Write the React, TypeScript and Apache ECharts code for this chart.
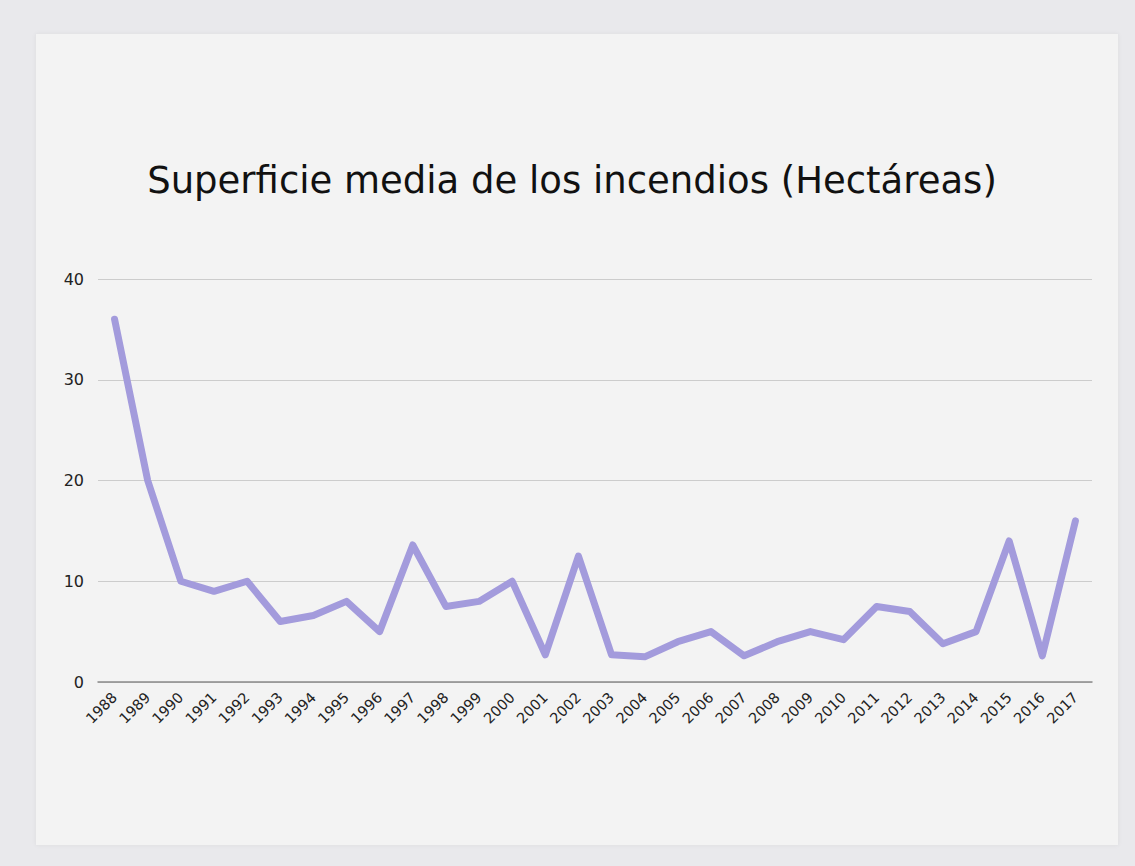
import React, { useEffect, useRef } from "react";
import * as echarts from "echarts";

const years: string[] = [
  "1988", "1989", "1990", "1991", "1992", "1993", "1994", "1995", "1996", "1997",
  "1998", "1999", "2000", "2001", "2002", "2003", "2004", "2005", "2006", "2007",
  "2008", "2009", "2010", "2011", "2012", "2013", "2014", "2015", "2016", "2017",
];
const superficie: number[] = [
  36, 20, 10, 9, 10, 6, 6.6, 8, 5, 13.6,
  7.5, 8, 10, 2.7, 12.5, 2.7, 2.5, 4, 5, 2.6,
  4, 5, 4.2, 7.5, 7, 3.8, 5, 14, 2.6, 16,
];
const titleText = "Superficie media de los incendios (Hectáreas)";

export default function App() {
  const ref = useRef<HTMLDivElement>(null);
  useEffect(() => {
    if (!ref.current) return;
    const chart = echarts.init(ref.current, undefined, { renderer: "svg" });
    chart.setOption({
      animation: false,
      backgroundColor: "#e9e9ec",
      graphic: [
        {
          type: "rect",
          z: -10,
          shape: { x: 36, y: 34, width: 1082, height: 811 },
          style: { fill: "#f3f3f3", shadowBlur: 4, shadowColor: "rgba(0,0,0,0.06)" },
        },
      ],
      title: {
        text: titleText,
        left: 567,
        textAlign: "center",
        top: 157,
        textStyle: {
          fontFamily: "DejaVu Sans",
          fontSize: 37,
          fontWeight: "normal",
          color: "#111111",
        },
      },
      grid: { left: 98, right: 43, top: 279, bottom: 184 },
      xAxis: {
        type: "category",
        data: years,
        boundaryGap: true,
        axisLine: { lineStyle: { color: "#8a8a8a", width: 1.5 } },
        axisTick: { show: false },
        axisLabel: {
          rotate: 45,
          interval: 0,
          color: "#222222",
          fontFamily: "DejaVu Sans",
          fontSize: 14.5,
          margin: 13,
        },
      },
      yAxis: {
        type: "value",
        min: 0,
        max: 40,
        interval: 10,
        axisLine: { show: false },
        axisTick: { show: false },
        splitLine: { lineStyle: { color: "#cccccc", width: 1 } },
        axisLabel: {
          color: "#222222",
          fontFamily: "DejaVu Sans",
          fontSize: 16,
          margin: 14,
        },
      },
      series: [
        {
          type: "line",
          data: superficie,
          showSymbol: false,
          symbol: "none",
          lineStyle: { color: "#a39bdc", width: 7, join: "round", cap: "round" },
        },
      ],
    });
    return () => chart.dispose();
  }, []);
  return (
    <div
      ref={ref}
      style={{ position: "absolute", left: 0, top: 0, width: 1135, height: 866 }}
    />
  );
}
